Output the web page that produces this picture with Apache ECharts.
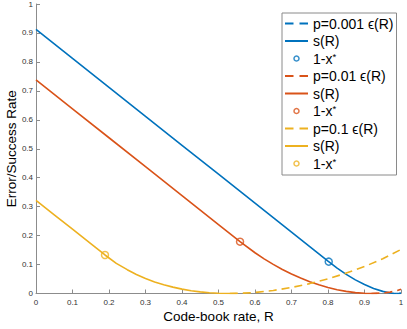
<!DOCTYPE html>
<html><head><meta charset="utf-8">
<script src="https://cdn.jsdelivr.net/npm/echarts@6/dist/echarts.min.js"></script>
<style>html,body{margin:0;padding:0;background:#fff}#c{width:407px;height:329px}</style>
</head><body><div id="c"></div>
<script>
const colors = ['#0072BD', '#D95319', '#EDB120'];
const pLabels = ['p=0.001', 'p=0.01', 'p=0.1'];
// p = 0.001
const rateS1 = [0, 0.1, 0.2, 0.3, 0.4, 0.5, 0.6, 0.7, 0.8, 0.825, 0.85, 0.875, 0.9, 0.925, 0.95, 0.97, 0.98, 0.9886];
const succ1 = [0.912, 0.812, 0.712, 0.612, 0.512, 0.412, 0.312, 0.212, 0.112, 0.0875, 0.0659, 0.0470, 0.0309, 0.0174, 0.0073, 0.0020, 0.0004, 0];
const rateE1 = [0.9886, 0.995, 1];
const err1 = [0, 0.0004, 0.0014];
// p = 0.01
const rateS2 = [0, 0.1, 0.2, 0.3, 0.4, 0.5, 0.559, 0.6, 0.625, 0.65, 0.675, 0.7, 0.725, 0.75, 0.775, 0.8, 0.825, 0.85, 0.875, 0.9, 0.919, 0.935];
const succ2 = [0.738, 0.638, 0.538, 0.438, 0.338, 0.238, 0.179, 0.1408, 0.1197, 0.1007, 0.0830, 0.0673, 0.0535, 0.0409, 0.0299, 0.0208, 0.0132, 0.0073, 0.0030, 0.0006, 0, 0];
const rateE2 = [0.919, 0.95, 0.97, 0.99, 1];
const err2 = [0, 0.0017, 0.0048, 0.0102, 0.0145];
// p = 0.1
const rateS3 = [0, 0.05, 0.1, 0.15, 0.189, 0.22, 0.25, 0.275, 0.3, 0.325, 0.35, 0.375, 0.4, 0.425, 0.45, 0.475, 0.5, 0.531, 0.55];
const succ3 = [0.322, 0.272, 0.222, 0.172, 0.133, 0.104, 0.0823, 0.0659, 0.0520, 0.0401, 0.0303, 0.0220, 0.0151, 0.0096, 0.0055, 0.0026, 0.0008, 0, 0];
const rateE3 = [0.531, 0.56, 0.6, 0.65, 0.7, 0.75, 0.8, 0.85, 0.9, 0.95, 1];
const err3 = [0, 0.0007, 0.0036, 0.0105, 0.0208, 0.0342, 0.0507, 0.0704, 0.0931, 0.1198, 0.152];
// critical points 1-x*
const markRate = [0.802, 0.559, 0.189];
const markVal = [0.110, 0.179, 0.133];

const FONT = "'Liberation Sans', Arial, Helvetica, sans-serif";
const sets = [[rateS1, succ1, rateE1, err1], [rateS2, succ2, rateE2, err2], [rateS3, succ3, rateE3, err3]];
const zip = (xs, ys) => xs.map((x, i) => [x, ys[i]]);

const series = [];
const legendData = [];
const legendText = {};
sets.forEach((s, i) => {
  const c = colors[i];
  series.push({name: 'e' + i, type: 'line', data: zip(s[2], s[3]), symbol: 'none',
    lineStyle: {color: c, width: 1.6, type: [8, 5]}, itemStyle: {color: c}});
  series.push({name: 's' + i, type: 'line', data: zip(s[0], s[1]), symbol: 'none',
    lineStyle: {color: c, width: 1.6}, itemStyle: {color: c}});
  series.push({name: 'm' + i, type: 'scatter', data: [[markRate[i], markVal[i]]], symbol: 'circle', symbolSize: 7,
    itemStyle: {color: 'rgba(255,255,255,0)', borderColor: c, borderWidth: 1.5}, z: 3});
  legendText['e' + i] = pLabels[i] + ' ϵ(R)';
  legendText['s' + i] = 's(R)';
  legendText['m' + i] = '1-x{s|*}';
  legendData.push({name: 'e' + i, lineStyle: {type: [8.5, 6]}, itemStyle: {opacity: 0}});
  legendData.push({name: 's' + i, itemStyle: {opacity: 0}});
  legendData.push({name: 'm' + i, icon: 'circle', itemStyle: {color: '#fff', borderColor: c, borderWidth: 1.5}});
});

const axisCommon = {
  type: 'value', min: 0, max: 1, interval: 0.1, nameLocation: 'middle', nameMoveOverlap: false,
  nameTextStyle: {fontSize: 13.5, color: '#000', fontFamily: FONT},
  axisLine: {show: true, lineStyle: {color: '#8c8c8c', width: 1}},
  axisTick: {show: true, inside: true, length: 4, lineStyle: {color: '#8c8c8c', width: 1}},
  axisLabel: {fontSize: 8, color: '#333', fontFamily: FONT},
  splitLine: {show: false}
};

const chart = echarts.init(document.getElementById('c'), null, {renderer: 'svg'});
chart.setOption({
  animation: false,
  backgroundColor: '#fff',
  grid: {left: 36, right: 6, top: 4, bottom: 35.5, containLabel: false, outerBoundsMode: 'none'},
  xAxis: Object.assign({}, axisCommon, {name: 'Code-book rate, R', nameGap: 15.5,
    axisLabel: Object.assign({}, axisCommon.axisLabel, {margin: 5})}),
  yAxis: Object.assign({}, axisCommon, {name: 'Error/Success Rate', nameGap: 18,
    axisLabel: Object.assign({}, axisCommon.axisLabel, {margin: 3})}),
  legend: {
    orient: 'vertical', left: 282, top: 13, padding: [3, 3, 4, 2], itemGap: 2.5,
    itemWidth: 23, itemHeight: 5, selectedMode: false,
    borderColor: '#8a8a8a', borderWidth: 1, backgroundColor: '#fff',
    textStyle: {fontSize: 14, color: '#000', fontFamily: FONT, lineHeight: 15,
      rich: {s: {fontSize: 9.5, verticalAlign: 'top', lineHeight: 15, color: '#000', fontFamily: FONT}}},
    formatter: n => legendText[n],
    data: legendData
  },
  series: series
});
</script></body></html>
